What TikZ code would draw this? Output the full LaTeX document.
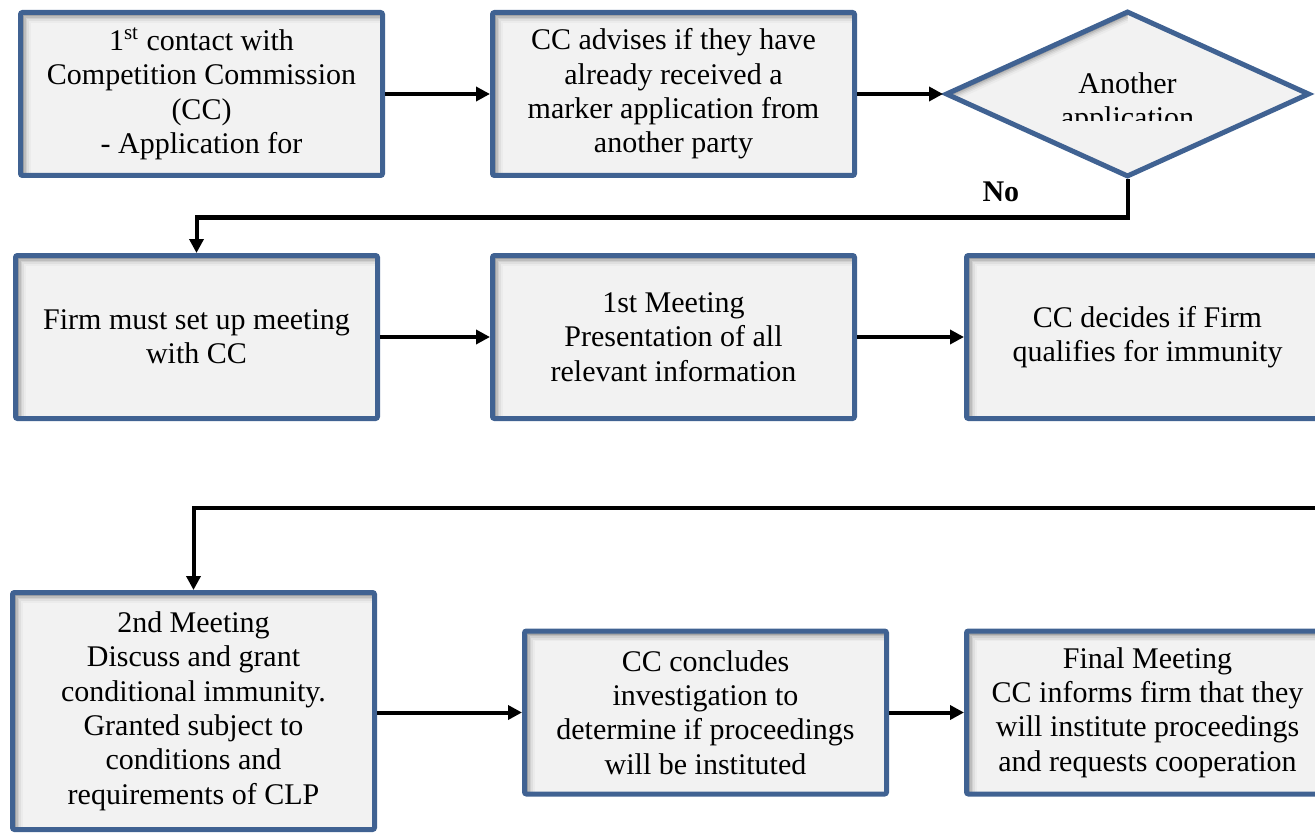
\documentclass[tikz,border=0pt]{standalone}
\usepackage{fontspec}
\setmainfont{Liberation Serif}
\usetikzlibrary{arrows.meta,positioning,calc,shapes.geometric}
\definecolor{boxline}{RGB}{64,98,146}
\definecolor{boxfill}{RGB}{242,242,242}

\begin{document}
\begin{tikzpicture}[x=0.5pt,y=-0.5pt,>={Triangle[length=7pt,width=7pt]},every node/.style={font=\fontsize{15}{17.2}\selectfont},
  box/.style={draw=boxline,line width=2.5pt,fill=boxfill,rounded corners=1pt,minimum width=181pt,minimum height=81.5pt,align=center,inner sep=2pt,
    path picture={\foreach \d/\c in {1.5/32,2.3/22,3.1/14,3.9/8,4.7/3}
      \draw[black!\c!boxfill,line width=0.9pt,sharp corners] ($(path picture bounding box.south west)+(\d pt,0)$) |- ($(path picture bounding box.north east)+(0,-\d pt)$);}},
  dec/.style={diamond,draw=boxline,line width=2.5pt,fill=boxfill,inner sep=0pt,minimum width=182pt,minimum height=83pt,
    path picture={\foreach \d/\c in {1.5/32,2.3/22,3.1/14,3.9/8,4.7/3}
      \draw[black!\c!boxfill,line width=0.9pt] ($(path picture bounding box.west)+(0,-\d pt)$) -- ($(path picture bounding box.north)+(0,-\d pt)$);}},
  link/.style={->,line width=2pt}]
\clip (0,0) rectangle (1315,834);
% first row
\node[box] (contact) at (201.5,94) {1\textsuperscript{st} contact with\\Competition Commission\\(CC)\\- Application for};
\node[box,right=52.5pt of contact] (advise) {CC advises if they have\\already received a\\marker application from\\another party};
\node[dec,right=43pt of advise] (other) {};
\begin{scope}
\clip (950,60) rectangle (1310,121);
\node[align=center] (othertxt) at ($(other)+(0,-4.5pt)$) {Another\\application};
\end{scope}
% second row
\node[box,below=37.5pt of advise] (meet1) {1st Meeting\\Presentation of all\\relevant information};
\node[box,left=55pt of meet1] (setup) {Firm must set up meeting\\with CC};
\node[box,right=53.5pt of meet1] (qualify) {CC decides if Firm\\qualifies for immunity};
% third row
\node[box,minimum height=118.5pt] (meet2) at (193.5,711) {2nd Meeting\\Discuss and grant\\conditional immunity.\\Granted subject to\\conditions and\\requirements of CLP};
\node[box] (conclude) at (705.5,712.5) {CC concludes\\investigation to\\determine if proceedings\\will be instituted};
\node[box,right=37.5pt of conclude] (final) {Final Meeting\\CC informs firm that they\\will institute proceedings\\and requests cooperation};

\draw[link] (contact) -- (advise);
\draw[link] (advise) -- (other);
\draw[link] (other.south) -- ++(0,-19pt) -| node[pos=0.068,above,yshift=3.5pt,font=\fontsize{15}{17}\selectfont\bfseries] (no) {No} (setup.north);
\draw[link] (setup) -- (meet1);
\draw[link] (meet1) -- (qualify);
\draw[link] (qualify.east) -- ++(10pt,0) |- ($(meet2.north)+(0,41pt)$) -- (meet2.north);
\draw[link] (meet2.east |- conclude) -- (conclude);
\draw[link] (conclude) -- (final);
\end{tikzpicture}
\end{document}
